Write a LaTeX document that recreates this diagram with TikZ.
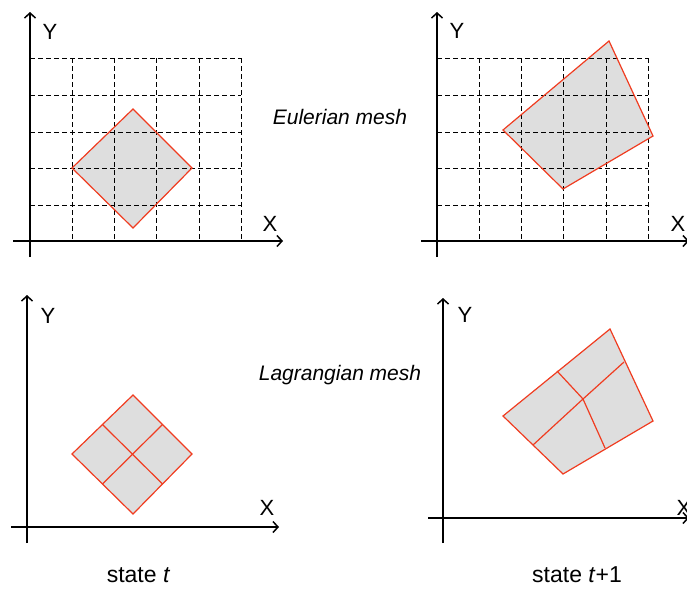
\documentclass[tikz,border=0pt]{standalone}
\usepackage{fontspec}
\setmainfont{Liberation Sans}
\usetikzlibrary{arrows.meta}
\definecolor{meshred}{HTML}{F03C20}
\definecolor{meshfill}{HTML}{DEDEDE}
\begin{document}
\begin{tikzpicture}[x=1pt,y=-1pt,
  axis/.style={line width=1.6pt,black,-{Straight Barb[length=5pt,width=11pt,line width=1.5pt]}},
  gridline/.style={line width=1pt,black,dash pattern=on 5pt off 3pt},
  cell/.style={fill=meshfill},
  edge/.style={draw=meshred,line width=1.2pt,line join=miter},
  axlabel/.style={inner sep=0pt,font=\fontsize{22}{26}\selectfont},
  meshlabel/.style={inner sep=0pt,font=\fontsize{21}{25}\selectfont\itshape},
  caption/.style={inner sep=0pt,font=\fontsize{23}{27}\selectfont}
]
\useasboundingbox (0,0) rectangle (687,589);

% ---------- top-left: Eulerian, state t ----------
\coordinate (a1) at (72,168);
\coordinate (a2) at (133,109);
\coordinate (a3) at (192,168);
\coordinate (a4) at (133,228);
\fill[cell] (a1) -- (a2) -- (a3) -- (a4) -- cycle;
\foreach \x in {72,114,156,199,241} \draw[gridline] (\x,58) -- (\x,241);
\foreach \y in {58,95,132,168,205} \draw[gridline] (30,\y) -- (241,\y);
\draw[edge] (a1) -- (a2) -- (a3) -- (a4) -- cycle;
\coordinate (o1y) at (30,257);
\coordinate (t1y) at (30,12);
\coordinate (o1x) at (13,241);
\coordinate (t1x) at (283,241);
\draw[axis] (o1y) -- (t1y);
\draw[axis] (o1x) -- (t1x);
\node[axlabel] (y1) at (50,32) {Y};
\node[axlabel] (x1) at (270,224) {X};

% ---------- top-right: Eulerian, state t+1 ----------
\coordinate (b1) at (503,130);
\coordinate (b2) at (609,41);
\coordinate (b3) at (653,136);
\coordinate (b4) at (563,189);
\fill[cell] (b1) -- (b2) -- (b3) -- (b4) -- cycle;
\foreach \x in {479,521,563,606,648} \draw[gridline] (\x,58) -- (\x,241);
\foreach \y in {58,95,132,168,205} \draw[gridline] (437,\y) -- (648,\y);
\draw[edge] (b1) -- (b2) -- (b3) -- (b4) -- cycle;
\coordinate (o2y) at (437,257);
\coordinate (t2y) at (437,12);
\coordinate (o2x) at (421,241);
\coordinate (t2x) at (689,241);
\draw[axis] (o2y) -- (t2y);
\draw[axis] (o2x) -- (t2x);
\node[axlabel] (y2) at (457,31) {Y};
\node[axlabel] (x2) at (678,224) {X};

% ---------- bottom-left: Lagrangian, state t ----------
\coordinate (c1) at (72,454);
\coordinate (c2) at (133,395);
\coordinate (c3) at (192,454);
\coordinate (c4) at (133,514);
\coordinate (c12) at (102.5,424.5);
\coordinate (c23) at (162.5,424.5);
\coordinate (c34) at (162.5,484);
\coordinate (c41) at (102.5,484);
\fill[cell] (c1) -- (c2) -- (c3) -- (c4) -- cycle;
\draw[edge] (c1) -- (c2) -- (c3) -- (c4) -- cycle;
\draw[edge] (c12) -- (c34);
\draw[edge] (c23) -- (c41);
\coordinate (o3y) at (27,543);
\coordinate (t3y) at (27,295);
\coordinate (o3x) at (11,527);
\coordinate (t3x) at (279,527);
\draw[axis] (o3y) -- (t3y);
\draw[axis] (o3x) -- (t3x);
\node[axlabel] (y3) at (48,316) {Y};
\node[axlabel] (x3) at (267,508) {X};

% ---------- bottom-right: Lagrangian, state t+1 ----------
\coordinate (d1) at (503,416);
\coordinate (d2) at (610,329);
\coordinate (d3) at (653,421);
\coordinate (d4) at (563,474);
\coordinate (dc) at (583,399);
\coordinate (dt) at (557,371);
\coordinate (dr) at (624,362);
\coordinate (dl) at (533,445);
\coordinate (db) at (605,448);
\fill[cell] (d1) -- (d2) -- (d3) -- (d4) -- cycle;
\draw[edge] (d1) -- (d2) -- (d3) -- (d4) -- cycle;
\draw[edge] (dt) -- (dc) -- (db);
\draw[edge] (dl) -- (dc) -- (dr);
\coordinate (o4y) at (443,543);
\coordinate (t4y) at (443,298);
\coordinate (o4x) at (428,518);
\coordinate (t4x) at (689,518);
\draw[axis] (o4y) -- (t4y);
\draw[axis] (o4x) -- (t4x);
\node[axlabel] (y4) at (465,315) {Y};
\node[axlabel] (x4) at (684,508) {X};

% ---------- labels ----------
\node[meshlabel] (eul) at (340,117) {Eulerian mesh};
\node[meshlabel] (lag) at (340,375) {Lagrangian mesh};
\node[caption] (st) at (138.5,575) {state \textit{t}};
\node[caption] (st1) at (577,575) {state \textit{t}+1};
\end{tikzpicture}
\end{document}
